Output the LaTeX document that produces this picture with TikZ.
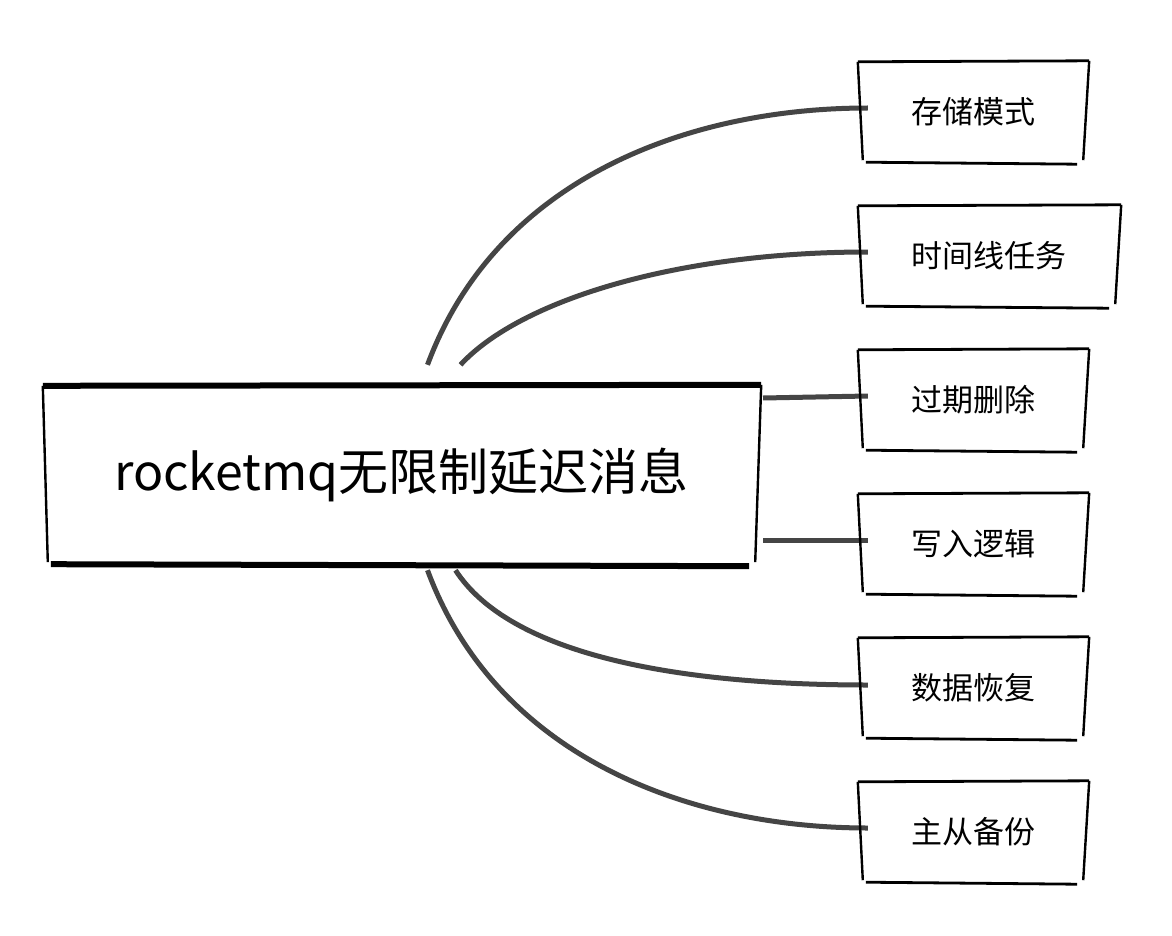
\documentclass[tikz,border=0pt]{standalone}
\usepackage{fontspec}
\newfontfamily\cjk{Noto Sans CJK SC}
\usetikzlibrary{calc}

\newcommand{\sketchbox}[2]{%
  \draw[line width=#2pt] ([shift={(0,1)}]#1.north west) -- ([shift={(1,0)}]#1.north east);
  \draw[line width=2.4pt] ([shift={(1,0)}]#1.north east) -- ([shift={(-5,-3)}]#1.south east);
  \draw[line width=#2pt] ([shift={(8,-1)}]#1.south west) -- ([shift={(-11,1)}]#1.south east);
  \draw[line width=2.4pt] ([shift={(0,1)}]#1.north west) -- ([shift={(5,-3)}]#1.south west);
}

\begin{document}
\begin{tikzpicture}[x=1pt, y=-1pt,
    topic/.style={inner sep=0pt, minimum width=230pt, minimum height=102pt,
      font=\cjk\fontsize{31}{36}\selectfont},
    link/.style={draw=black!73, line width=5pt}]
  \useasboundingbox[fill=white] (0,0) rectangle (1172,936);

  \node[inner sep=0pt, minimum width=717pt, minimum height=180pt,
    font=\cjk\fontsize{50}{60}\selectfont] (root) at (401.5,475) {rocketmq无限制延迟消息};

  \node[topic] (store) at (973,112) {存储模式};
  \node[topic, minimum width=262pt] (wheel) at (989,256) {时间线任务};
  \node[topic] (expire) at (973,400) {过期删除};
  \node[topic] (write) at (973,544) {写入逻辑};
  \node[topic] (recover) at (973,688) {数据恢复};
  \node[topic] (backup) at (973,832) {主从备份};

  % connectors
  \draw[link] ([shift={(26,-20)}]root.north) .. controls +(69,-186) and +(-180,0) .. ([shift={(10,-4)}]store.west);
  \draw[link] ([shift={(59,-20)}]root.north) .. controls +(60,-65) and +(-190,0) .. ([shift={(10,-4)}]wheel.west);
  \draw[link] ([shift={(3,-77)}]root.east) -- ([shift={(10,-4)}]expire.west);
  \draw[link] ([shift={(3,65)}]root.east) -- ([shift={(10,-4)}]write.west);
  \draw[link] ([shift={(54,5)}]root.south) .. controls +(55,85) and +(-190,0) .. ([shift={(10,-3)}]recover.west);
  \draw[link] ([shift={(26,5)}]root.south) .. controls +(69,186) and +(-180,0) .. ([shift={(10,-4)}]backup.west);

  % hand drawn outlines
  \sketchbox{root}{6}
  \foreach \n in {store, wheel, expire, write, recover, backup}
    {\sketchbox{\n}{2.8}}
\end{tikzpicture}
\end{document}
